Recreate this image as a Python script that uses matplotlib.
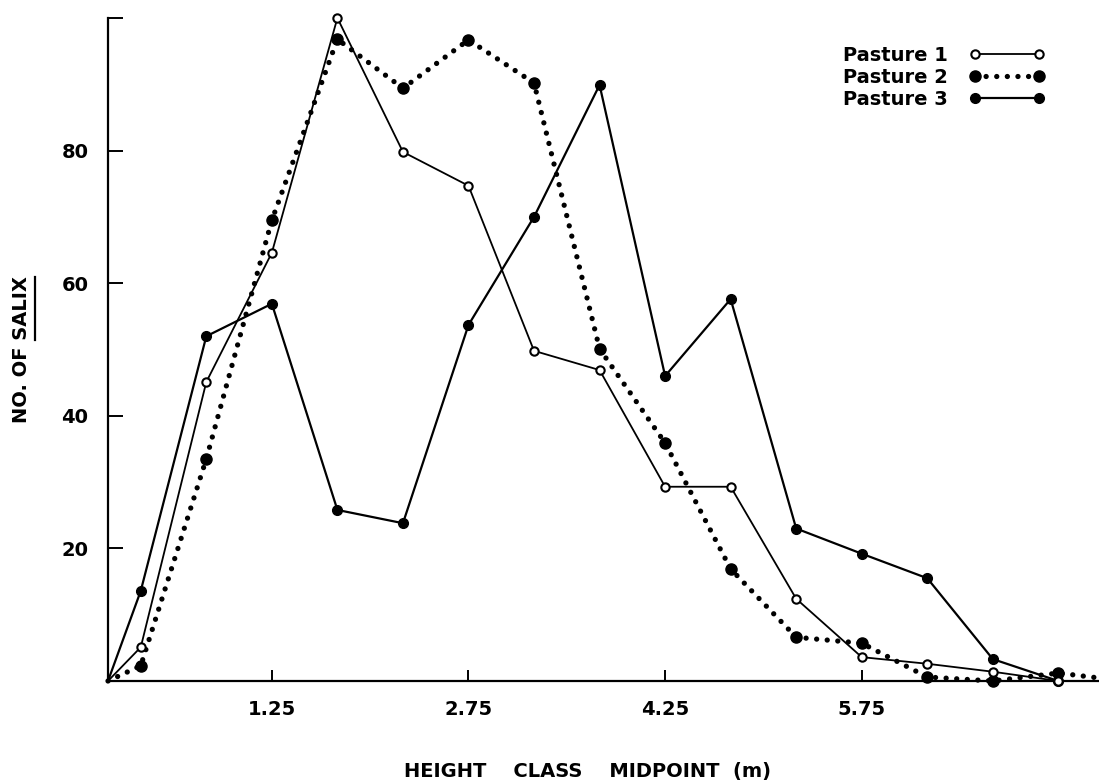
import matplotlib
matplotlib.use("Agg")
import matplotlib.pyplot as plt
from matplotlib.lines import Line2D
from matplotlib.transforms import IdentityTransform

plt.rcParams['font.family'] = 'DejaVu Sans'
plt.rcParams['font.weight'] = 'bold'

# height class midpoints (m), origin included
x13 = [0, 0.25, 0.75, 1.25, 1.75, 2.25, 2.75, 3.25, 3.75, 4.25, 4.75, 5.25, 5.75, 6.25, 6.75, 7.25]
x2 = [0, 0.25, 0.75, 1.25, 1.75, 2.25, 2.75, 3.25, 3.75, 4.25, 4.75, 5.25, 5.75, 6.25, 6.75, 7.25, 7.75]

pasture1 = [0, 5.1, 45.1, 64.6, 100, 79.8, 74.7, 49.8, 46.9, 29.3, 29.3, 12.4, 3.6, 2.6, 1.4, 0]
pasture2 = [0, 2.3, 33.5, 69.5, 96.8, 89.4, 96.7, 90.2, 50.1, 35.9, 16.9, 6.6, 5.7, 0.6, 0, 1.2, 0]
pasture3 = [0, 13.6, 52.0, 56.9, 25.8, 23.8, 53.7, 70.0, 89.9, 46.0, 57.6, 23.0, 19.2, 15.5, 3.3, 0]

xticks = [1.25, 2.75, 4.25, 5.75]
xticklabels = ['1.25', '2.75', '4.25', '5.75']
yticks = [20, 40, 60, 80, 100]
yticklabels = ['20', '40', '60', '80', '']

fig = plt.figure(figsize=(10.99, 7.81), dpi=100)
ax = fig.add_axes([108/1099, 1-681/781, 1-108/1099, (681-18)/781])

fs = 14

# pasture 1: thin solid line, open circles
l1, = ax.plot(x13, pasture1, color='k', lw=1.3, zorder=2, clip_on=False)
m1, = ax.plot(x13[1:], pasture1[1:], ls='none', marker='o', ms=6, mfc='white',
              mec='k', mew=1.5, zorder=4, clip_on=False)

# pasture 2: dotted line, big filled dots
l2, = ax.plot(x2, pasture2, color='k', lw=3.8, ls=(0, (0.01, 2.0)),
              dash_capstyle='round', zorder=2, clip_on=False)
m2, = ax.plot(x2[1:], pasture2[1:], ls='none', marker='o', ms=8, color='k',
              zorder=3, clip_on=False)

# pasture 3: solid line, filled dots
l3, = ax.plot(x13, pasture3, color='k', lw=1.6, zorder=2, clip_on=False)
m3, = ax.plot(x13[1:], pasture3[1:], ls='none', marker='o', ms=7, color='k',
              zorder=3, clip_on=False)

ax.set_xlim(0, 7.56)
ax.set_ylim(0, 100)

for s in ['top', 'right']:
    ax.spines[s].set_visible(False)
for s in ['left', 'bottom']:
    ax.spines[s].set_linewidth(1.6)

ax.set_xticks(xticks)
ax.set_xticklabels(xticklabels)
ax.set_yticks(yticks)
ax.set_yticklabels(yticklabels)
ax.tick_params(axis='both', direction='in', length=8, width=1.4, labelsize=fs)
ax.tick_params(axis='y', pad=14, length=11)
ax.tick_params(axis='x', pad=14)
for t in ax.get_xticklabels() + ax.get_yticklabels():
    t.set_fontweight('bold')

ax.set_xlabel('HEIGHT    CLASS    MIDPOINT  (m)', fontsize=fs, fontweight='bold')
ax.xaxis.set_label_coords(0.484, -0.122)

ax.legend([(l1, m1), (l2, m2), (l3, m3)], ['Pasture 1', 'Pasture 2', 'Pasture 3'],
          loc='upper right', bbox_to_anchor=(1045/1099, 1-46/781),
          bbox_transform=fig.transFigure, frameon=False, markerfirst=False,
          numpoints=2, handlelength=3.9, handletextpad=1.1, labelspacing=0.16,
          borderpad=0, borderaxespad=0, prop={'size': fs, 'weight': 'bold'})

# y label with underlined SALIX
ylab = fig.text(22/1099, 1-350/781, 'NO. OF SALIX', rotation=90, ha='center',
                va='center', fontsize=fs, fontweight='bold')
fig.canvas.draw()
r = fig.canvas.get_renderer()
bb = ylab.get_window_extent(r)
tmp = fig.text(0, 0, 'SALIX', rotation=90, fontsize=fs, fontweight='bold')
sb = tmp.get_window_extent(r)
tmp.remove()
xu = bb.x1 + 3
fig.add_artist(Line2D([xu, xu], [bb.y1 - sb.height, bb.y1], transform=IdentityTransform(),
                      color='k', lw=1.6))

fig.savefig('out.png', dpi=100)
